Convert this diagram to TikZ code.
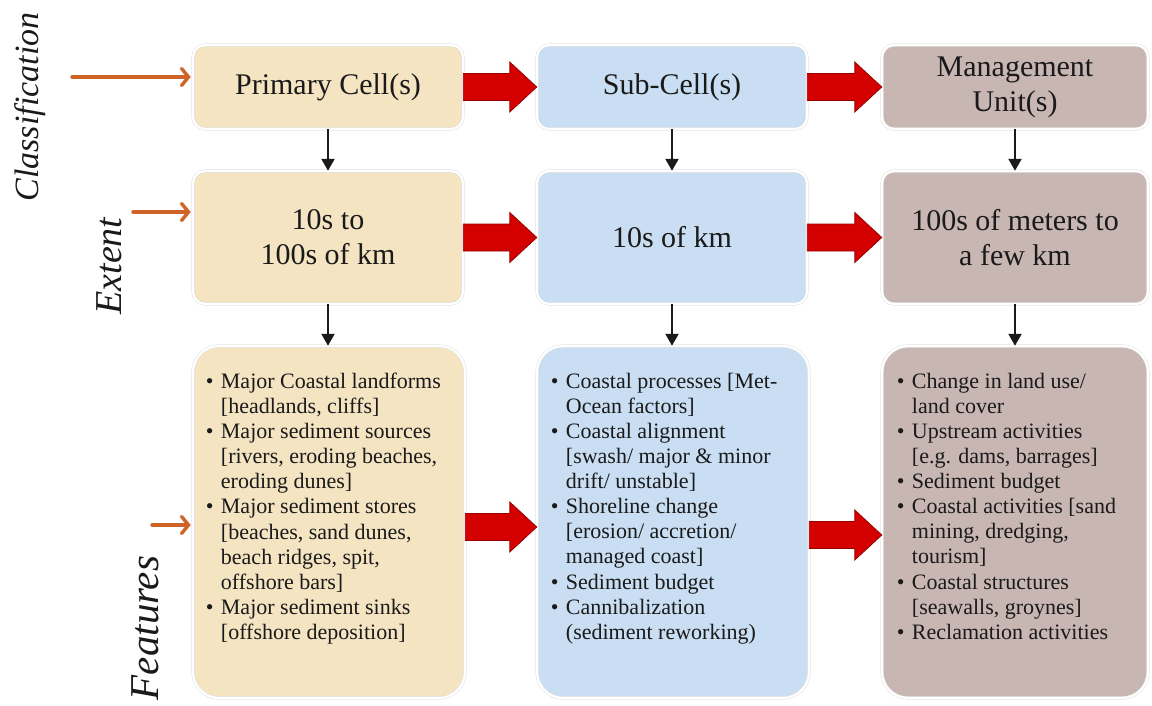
\documentclass[tikz,border=0pt]{standalone}
\usepackage{fontspec}
\setmainfont{Liberation Serif}
\usetikzlibrary{arrows.meta,calc}

\definecolor{ink}{HTML}{1A1A1A}
\definecolor{cellA}{HTML}{F4E4C2}
\definecolor{cellB}{HTML}{C9DEF2}
\definecolor{cellC}{HTML}{C8B6B3}
\definecolor{blockred}{HTML}{D40000}
\definecolor{blockedge}{HTML}{980000}
\definecolor{pointer}{HTML}{D06428}

\newcommand\titlefont{\fontsize{30}{35}\selectfont}
\newcommand\listfont{\fontsize{22}{25.1}\selectfont}
\newcommand\bul{\makebox[15pt][l]{\textbullet}}
\newcommand\cont{\hspace*{15pt}}

% red block arrow from the east side of one box to the west side of the next
\newcommand\blockarrow[3][0pt]{%
  \filldraw[bigarrow] let \p1=($(#2.east)+(0,#1)$), \p2=($(#3.west)+(0,#1)$) in
    (\x1,\y1+13.5pt) -- (\x2-27pt,\y1+13.5pt) -- (\x2-27pt,\y1+25pt) -- (\x2,\y1)
    -- (\x2-27pt,\y1-25pt) -- (\x2-27pt,\y1-13.5pt) -- (\x1,\y1-13.5pt) -- cycle;}

\begin{document}
\begin{tikzpicture}[x=1pt,y=1pt,
  every node/.style={text=ink},
  cellbox/.style={rectangle, draw=black!12, double=white, double distance=2.2pt,
    line width=0.5pt, inner sep=0pt, align=center, font=\titlefont},
  headbox/.style={cellbox, rounded corners=12pt, minimum height=84pt},
  extbox/.style={cellbox, rounded corners=12pt, minimum height=133pt},
  featbox/.style={cellbox, rounded corners=26pt, minimum height=352pt},
  listtext/.style={anchor=north west, align=left, inner sep=0pt, font=\listfont},
  sidelabel/.style={rotate=90, inner sep=0pt},
  bigarrow/.style={fill=blockred, draw=blockedge, line width=0.8pt, line join=miter},
  down/.style={draw=ink, line width=2.3pt, -{Triangle[length=12pt,width=13pt]}},
  feed/.style={draw=pointer, line width=3.4pt, line cap=round,
    -{Straight Barb[length=7pt,width=17pt,line cap=round]}}]

\useasboundingbox (0,0) rectangle (1152,-705);

% column 1: primary cells
\node[headbox, fill=cellA, minimum width=270pt] (pc) at (328,-87) {Primary Cell(s)};
\node[extbox,  fill=cellA, minimum width=270pt] (pe) at (328,-237.5) {10s to\\100s of km};
\node[featbox, fill=cellA, minimum width=272pt] (pf) at (329,-522) {};

% column 2: sub-cells
\node[headbox, fill=cellB, minimum width=270pt] (sc) at (672,-87) {Sub-Cell(s)};
\node[extbox,  fill=cellB, minimum width=270pt] (se) at (672,-237.5) {10s of km};
\node[featbox, fill=cellB, minimum width=272pt] (sf) at (673,-522) {};

% column 3: management units
\node[headbox, fill=cellC, minimum width=266pt] (mc) at (1015,-87) {Management\\Unit(s)};
\node[extbox,  fill=cellC, minimum width=266pt] (me) at (1015,-237.5) {100s of meters to\\a few km};
\node[featbox, fill=cellC, minimum width=266pt] (mf) at (1015,-522) {};

% feature lists
\node[listtext] (pl) at ($(pf.north west)+(13pt,-27pt)$) {%
  \bul Major Coastal landforms\\ \cont [headlands, cliffs]\\
  \bul Major sediment sources\\ \cont [rivers, eroding beaches,\\ \cont eroding dunes]\\
  \bul Major sediment stores\\ \cont [beaches, sand dunes,\\ \cont beach ridges, spit,\\ \cont offshore bars]\\
  \bul Major sediment sinks\\ \cont [offshore deposition]};
\node[listtext] (sl) at ($(sf.north west)+(14pt,-27pt)$) {%
  \bul Coastal processes [Met-\\ \cont Ocean factors]\\
  \bul Coastal alignment\\ \cont [swash/ major \& minor\\ \cont drift/ unstable]\\
  \bul Shoreline change\\ \cont [erosion/ accretion/\\ \cont managed coast]\\
  \bul Sediment budget\\
  \bul Cannibalization\\ \cont (sediment reworking)};
\node[listtext] (ml) at ($(mf.north west)+(15pt,-27pt)$) {%
  \bul Change in land use/\\ \cont land cover\\
  \bul Upstream activities\\ \cont [e.g. dams, barrages]\\
  \bul Sediment budget\\
  \bul Coastal activities [sand\\ \cont mining, dredging,\\ \cont tourism]\\
  \bul Coastal structures\\ \cont [seawalls, groynes]\\
  \bul Reclamation activities};

% row labels
\node[sidelabel, font=\fontsize{34}{40}\selectfont\itshape] (lclass) at (30,-107) {Classification};
\node[sidelabel, font=\fontsize{38}{44}\selectfont\itshape] (lext) at (109,-266) {Extent};
\node[sidelabel, font=\fontsize{41}{48}\selectfont\itshape] (lfeat) at (145,-628) {Features};

% pointers from the labels into the first column
\coordinate (fc) at (72,-77);
\coordinate (fe) at (133,-212);
\coordinate (ff) at (152,-525);
\draw[feed] (fc) -- ([xshift=-2pt]fc -| pc.west);
\draw[feed] (fe) -- ([xshift=-2pt]fe -| pe.west);
\draw[feed] (ff) -- ([xshift=-2pt]ff -| pf.west);

% red block arrows along each row
\blockarrow{pc}{sc}
\blockarrow{sc}{mc}
\blockarrow{pe}{se}
\blockarrow{se}{me}
\blockarrow[-5pt]{pf}{sf}
\blockarrow[-13pt]{sf}{mf}

% downward arrows within each column
\draw[down] (pc.south) -- (pe.north);
\draw[down] (pe.south) -- (pe.south |- pf.north);
\draw[down] (sc.south) -- (se.north);
\draw[down] (se.south) -- (se.south |- sf.north);
\draw[down] (mc.south) -- (me.north);
\draw[down] (me.south) -- (me.south |- mf.north);
\end{tikzpicture}
\end{document}
